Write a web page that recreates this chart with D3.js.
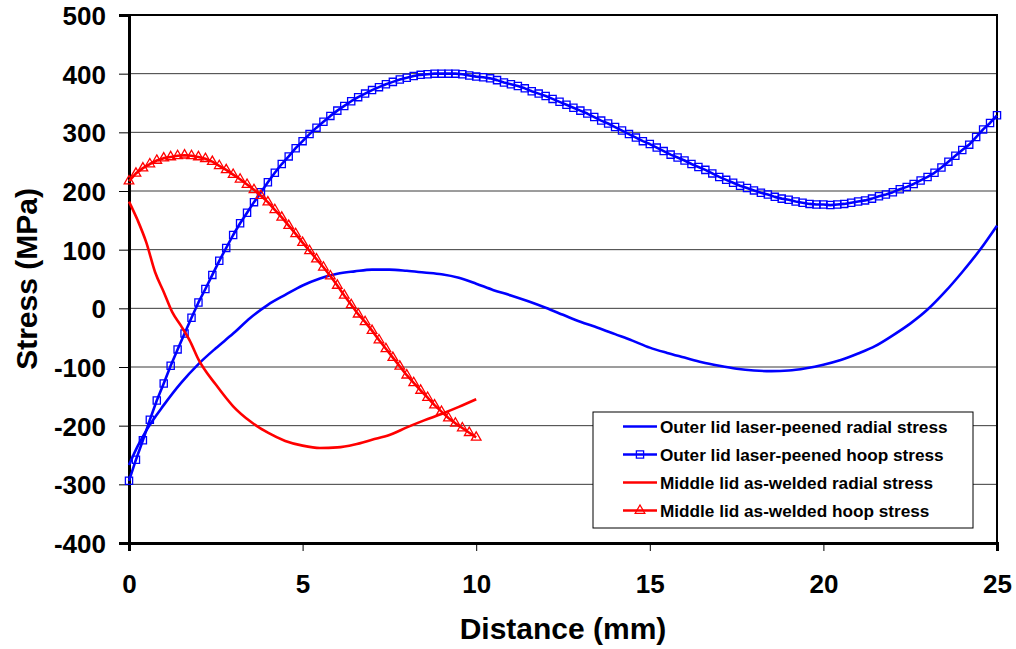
<!DOCTYPE html>
<html>
<head>
<meta charset="utf-8">
<script src="https://cdn.jsdelivr.net/npm/d3@7"></script>
<style>
  html, body { margin: 0; padding: 0; background: #fff; }
  svg { display: block; }
  text { font-family: "Liberation Sans", Arial, sans-serif; font-weight: bold; fill: #000; }
</style>
</head>
<body>
<svg id="chart" width="1016" height="649"></svg>
<script>
// ---------- data ----------
const seriesNames = [
  "Outer lid laser-peened radial stress",
  "Outer lid laser-peened hoop stress",
  "Middle lid as-welded radial stress",
  "Middle lid as-welded hoop stress"
];

const xTicks = [0, 5, 10, 15, 20, 25];
const yTicks = [-400, -300, -200, -100, 0, 100, 200, 300, 400, 500];

// Outer lid laser-peened radial stress
const outerRadialX = [0,0.25,0.5,1,1.5,2,2.5,3,3.5,4,4.5,5,5.5,6,6.5,7,7.5,8,8.5,9,9.5,10,10.5,11,11.5,12,12.5,13,13.5,14,14.5,15,15.5,16,16.5,17,17.5,18,18.5,19,19.5,20,20.5,21,21.5,22,22.5,23,23.5,24,24.5,25];
const outerRadialY = [-267,-235,-208,-165,-127,-95,-68,-43,-16,6,23,39,51,59,63,66,66,64,61,58,52,42,31,22,12,1,-11,-23,-33,-44,-55,-67,-76,-84,-92,-98,-103,-106,-107,-106,-102,-96,-88,-77,-64,-46,-26,-2,28,62,99,141];

// Outer lid laser-peened hoop stress
const outerHoopX = [
  0,0.2,0.4,0.6,0.8,1,1.2,1.4,1.6,1.8,
  2,2.2,2.4,2.6,2.8,3,3.2,3.4,3.6,3.8,
  4,4.2,4.4,4.6,4.8,5,5.2,5.4,5.6,5.8,
  6,6.2,6.4,6.6,6.8,7,7.2,7.4,7.6,7.8,
  8,8.2,8.4,8.6,8.8,9,9.2,9.4,9.6,9.8,
  10,10.2,10.4,10.6,10.8,11,11.2,11.4,11.6,11.8,
  12,12.2,12.4,12.6,12.8,13,13.2,13.4,13.6,13.8,
  14,14.2,14.4,14.6,14.8,15,15.2,15.4,15.6,15.8,
  16,16.2,16.4,16.6,16.8,17,17.2,17.4,17.6,17.8,
  18,18.2,18.4,18.6,18.8,19,19.2,19.4,19.6,19.8,
  20,20.2,20.4,20.6,20.8,21,21.2,21.4,21.6,21.8,
  22,22.2,22.4,22.6,22.8,23,23.2,23.4,23.6,23.8,
  24,24.2,24.4,24.6,24.8,25
];
const outerHoopY = [
  -294,-258,-225,-190,-157,-128,-98,-70,-43,-16,
  10,33,57,81,103,125,145,163,181,198,
  215,231,246,259,273,285,297,308,318,328,
  337,345,353,360,366,372,377,382,386,390,
  393,396,398,399,400,400,400,400,399,397,
  395,394,392,389,385,382,379,375,370,366,
  362,357,352,347,342,337,332,326,320,315,
  309,303,297,291,285,280,274,268,262,257,
  252,246,241,236,230,224,219,214,209,205,
  201,197,194,190,187,185,182,180,178,177,
  177,176,177,178,180,182,184,187,191,194,
  198,203,207,212,218,224,231,240,250,260,
  270,279,292,305,316,329
];

// Middle lid as-welded radial stress
const middleRadialX = [0,0.25,0.5,0.75,1,1.25,1.5,1.75,2,2.5,3,3.5,4,4.5,5,5.5,6,6.5,7,7.5,8,8.5,9,9.5,10];
const middleRadialY = [182,150,112,62,28,-7,-30,-55,-87,-130,-167,-193,-212,-226,-234,-238,-237,-232,-224,-216,-203,-191,-180,-168,-155];

// Middle lid as-welded hoop stress
const middleHoopX = [
  0,0.2,0.4,0.6,0.8,1,1.2,1.4,1.6,1.8,
  2,2.2,2.4,2.6,2.8,3,3.2,3.4,3.6,3.8,
  4,4.2,4.4,4.6,4.8,5,5.2,5.4,5.6,5.8,
  6,6.2,6.4,6.6,6.8,7,7.2,7.4,7.6,7.8,
  8,8.2,8.4,8.6,8.8,9,9.2,9.4,9.6,9.8,
  10
];
const middleHoopY = [
  217,230,239,246,252,256,258,260,261,260,
  258,255,250,243,236,228,220,211,202,192,
  181,168,155,141,127,112,98,84,70,55,
  39,22,6,-10,-23,-38,-54,-69,-84,-99,
  -114,-127,-140,-152,-165,-176,-187,-196,-204,-212,
  -220
];

// ---------- chart ----------
const svg = d3.select("#chart");
const m = { left: 129, right: 997, top: 15, bottom: 543 };

const x = d3.scaleLinear().domain([0, 25]).range([m.left, m.right]);
const y = d3.scaleLinear().domain([-400, 500]).range([m.bottom, m.top]);
const fmt = d => String(d);

// gridlines
svg.append("g")
  .selectAll("line")
  .data(yTicks.filter(d => d !== 500 && d !== -400))
  .join("line")
  .attr("x1", m.left).attr("x2", m.right)
  .attr("y1", d => y(d)).attr("y2", d => y(d))
  .attr("stroke", "#3a3a3a").attr("stroke-width", 1);

// frame
svg.append("rect")
  .attr("x", m.left).attr("y", m.top)
  .attr("width", m.right - m.left).attr("height", m.bottom - m.top)
  .attr("fill", "none").attr("stroke", "#000").attr("stroke-width", 2);

// y axis
const yAxis = svg.append("g")
  .attr("transform", `translate(${m.left},0)`)
  .call(d3.axisLeft(y).tickValues(yTicks).tickSize(10).tickPadding(13).tickFormat(fmt));
yAxis.select(".domain").attr("stroke", "#000").attr("stroke-width", 3);
yAxis.selectAll(".tick line").attr("stroke", "#000").attr("stroke-width", 1);
yAxis.selectAll(".tick text")
  .attr("font-size", 26).attr("font-family", "Liberation Sans, Arial, sans-serif")
  .attr("font-weight", "bold").attr("fill", "#000").attr("dy", "0.36em");

// x axis
const xAxis = svg.append("g")
  .attr("transform", `translate(0,${m.bottom})`)
  .call(d3.axisBottom(x).tickValues(xTicks).tickSize(8).tickPadding(24).tickFormat(fmt));
xAxis.select(".domain").attr("stroke", "#000").attr("stroke-width", 3);
xAxis.selectAll(".tick line").attr("stroke", "#000").attr("stroke-width", 1);
xAxis.selectAll(".tick text")
  .attr("font-size", 26).attr("font-family", "Liberation Sans, Arial, sans-serif")
  .attr("font-weight", "bold").attr("fill", "#000");

// axis titles
svg.append("text")
  .attr("x", (m.left + m.right) / 2).attr("y", 639)
  .attr("text-anchor", "middle").attr("font-size", 30)
  .text("Distance (mm)");
svg.append("text")
  .attr("transform", `translate(37,${(m.top + m.bottom) / 2}) rotate(-90)`)
  .attr("text-anchor", "middle").attr("font-size", 30)
  .text("Stress (MPa)");

// lines
const blue = "#0000ff", red = "#ff0000";
const zip = (xs, ys) => xs.map((d, i) => [d, ys[i]]);
const smooth = d3.line().x(d => x(d[0])).y(d => y(d[1])).curve(d3.curveMonotoneX);
const plain = d3.line().x(d => x(d[0])).y(d => y(d[1]));

const series = [
  { name: seriesNames[0], data: zip(outerRadialX, outerRadialY), color: blue, marker: null, gen: smooth },
  { name: seriesNames[1], data: zip(outerHoopX, outerHoopY), color: blue, marker: "square", gen: plain },
  { name: seriesNames[2], data: zip(middleRadialX, middleRadialY), color: red, marker: null, gen: smooth },
  { name: seriesNames[3], data: zip(middleHoopX, middleHoopY), color: red, marker: "triangle", gen: plain }
];

const plotG = svg.append("g");
const markerSym = {
  square: d3.symbol().type(d3.symbolSquare).size(52),
  triangle: d3.symbol().type(d3.symbolTriangle).size(40)
};

series.forEach(s => {
  plotG.append("path")
    .datum(s.data)
    .attr("d", s.gen)
    .attr("fill", "none")
    .attr("stroke", s.color)
    .attr("stroke-width", 2.6)
    .attr("stroke-linejoin", "round");
  if (s.marker) {
    plotG.append("g")
      .selectAll("path")
      .data(s.data)
      .join("path")
      .attr("transform", d => `translate(${x(d[0])},${y(d[1])})`)
      .attr("d", markerSym[s.marker])
      .attr("fill", "none")
      .attr("stroke", s.color)
      .attr("stroke-width", 1.3);
  }
});

// legend
const lg = svg.append("g").attr("transform", "translate(593,412)");
lg.append("rect")
  .attr("width", 380).attr("height", 116)
  .attr("fill", "#fff").attr("stroke", "#000").attr("stroke-width", 1);
series.forEach((s, i) => {
  const cy = 14.5 + i * 28;
  const row = lg.append("g").attr("transform", `translate(0,${cy})`);
  row.append("line")
    .attr("x1", 30).attr("x2", 64).attr("y1", 0).attr("y2", 0)
    .attr("stroke", s.color).attr("stroke-width", 2.6);
  if (s.marker) {
    row.append("path")
      .attr("transform", "translate(47,0)")
      .attr("d", markerSym[s.marker])
      .attr("fill", "none").attr("stroke", s.color).attr("stroke-width", 1.3);
  }
  row.append("text")
    .attr("x", 67).attr("y", 0).attr("dy", "0.35em")
    .attr("font-size", 17.2)
    .text(s.name);
});
</script>
</body>
</html>
